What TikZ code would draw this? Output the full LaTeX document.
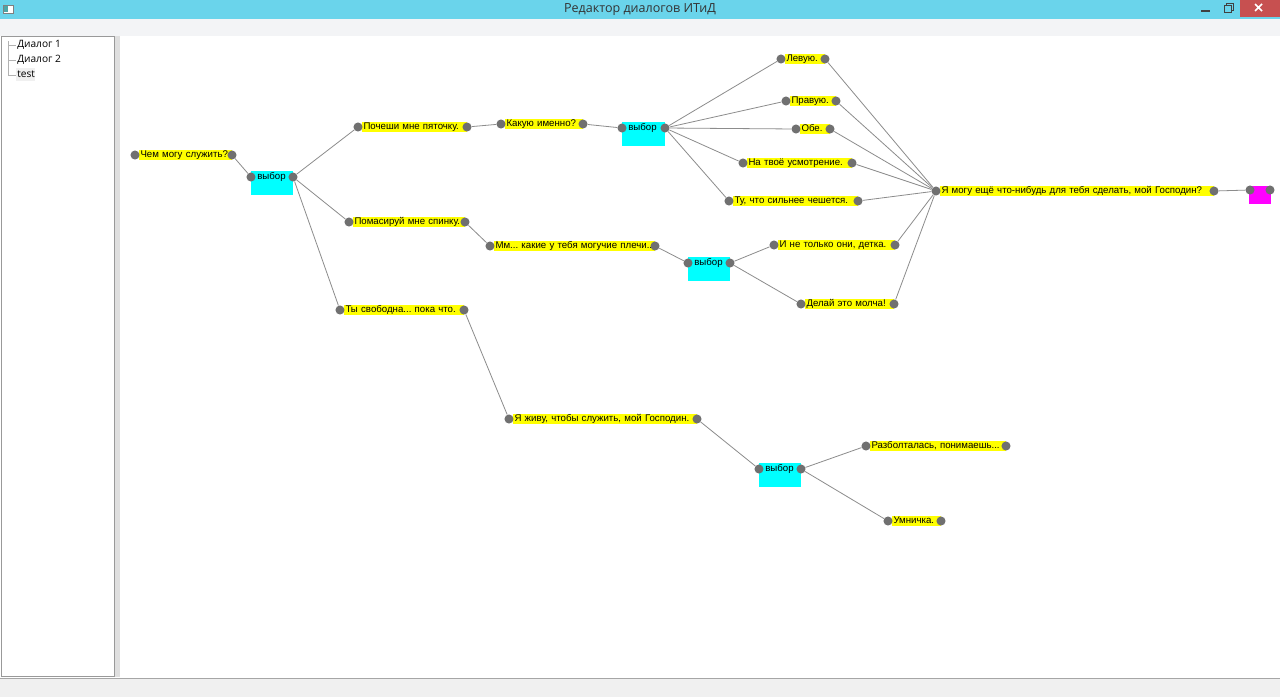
\documentclass[tikz,border=0pt]{standalone}
\usepackage{fontspec}
\setmainfont{Liberation Sans}
\newfontfamily\uifont{Open Sans}
\frenchspacing

\definecolor{titlecyan}{RGB}{106,212,235}
\definecolor{closered}{RGB}{199,80,80}
\definecolor{bandgray}{RGB}{243,244,246}
\definecolor{statusgray}{RGB}{240,240,240}
\definecolor{portgray}{RGB}{112,112,112}
\definecolor{wiregray}{RGB}{140,140,140}
\definecolor{pickcyan}{RGB}{0,255,255}
\definecolor{endmagenta}{RGB}{255,0,255}
\definecolor{phraseyellow}{RGB}{255,255,0}

\pgfdeclarelayer{chrome}
\pgfdeclarelayer{wires}
\pgfsetlayers{chrome,wires,main}

% name, left port x, right port x, y, text
\newcommand{\replica}[5]{%
  \node[phrase, text width={(#3-#2-7)*0.75pt}] (#1) at ({(#2+#3)/2+2},#4) {\mbox{#5}};
  \node[port] (#1L) at (#2,#4) {};
  \node[port] (#1R) at (#3,#4) {};
}
% name, left port x, right port x, y
\newcommand{\vybor}[4]{%
  \node[pick, minimum width={(#3-#2)*0.75pt}] (#1) at ({(#2+#3)/2},#4+6) {};
  \node[picktext] (#1t) at (#2+6,#4) {выбор};
  \node[port] (#1L) at (#2,#4) {};
  \node[port] (#1R) at (#3,#4) {};
}

\begin{document}
\begin{tikzpicture}[
            x = 0.75pt, y = -0.75pt, % one screen pixel, y going down
            phrase/.style = {fill=phraseyellow, inner xsep=1.1pt, inner ysep=0pt, minimum height=7.5pt,
                             text height=5.2pt, text depth=1.6pt, align=left,
                             font=\fontsize{7.25}{8}\selectfont},
            pick/.style = {fill=pickcyan, minimum height=18pt, inner sep=0pt},
            picktext/.style = {anchor=west, inner sep=0pt, text height=5.2pt, text depth=1.6pt,
                               font=\fontsize{7.25}{8}\selectfont},
            port/.style = {circle, fill=portgray, minimum size=6.8pt, inner sep=0pt},
            wire/.style = {draw=wiregray, line width=0.6pt},
            finish/.style = {fill=endmagenta, minimum width=16.5pt, minimum height=13.5pt, inner sep=0pt},
            treeitem/.style = {anchor=west, inner sep=0pt, font=\uifont\fontsize{7.6}{9}\selectfont}
        ]
\useasboundingbox (0,0) rectangle (1280,697);

% window
\begin{pgfonlayer}{chrome}
  \fill[bandgray] (0,0) rectangle (1280,36);
  \fill[titlecyan] (0,0) rectangle (1280,19);
  \fill[closered] (1240,0) rectangle (1280,17);
  \draw[white, line width=1.1pt] (1255,4) -- (1262,11) (1255,11) -- (1262,4);
  \draw[black!75, line width=1pt] (1201,11) -- (1210,11);
  \draw[black!75, line width=0.7pt] (1224,5) rectangle (1231,12) (1226,5) -- (1226,3) -- (1233,3) -- (1233,10) -- (1231,10);
  \filldraw[fill=white, draw=gray, line width=0.5pt] (3,5) rectangle (13,13);
  \fill[teal!70] (4,6) rectangle (8,12);
  \fill[statusgray] (0,678) rectangle (1280,697);
  \draw[gray!70, line width=0.75pt] (0,678) -- (1280,678);
  \filldraw[fill=white, draw=gray!80, line width=0.75pt] (1.5,36.5) rectangle (114.5,676.5);
  \fill[gray!25] (115,36) rectangle (120,677);
  \fill[white] (120,36) rectangle (1280,677);
  \fill[gray!12] (16,68) rectangle (35,81);
  \draw[gray!60, line width=0.5pt] (8,41) -- (8,75) (8,45) -- (16,45) (8,60) -- (16,60) (8,75) -- (16,75);
\end{pgfonlayer}

\node[font=\uifont\fontsize{9.4}{11}\selectfont, text=black!80] (title) at (640,10) {Редактор диалогов ИТиД};
\node[treeitem] (dlg1) at (17,45) {Диалог 1};
\node[treeitem] (dlg2) at (17,60) {Диалог 2};
\node[treeitem] (test) at (17,74) {test};

% dialogue
\replica{chem}{135}{232}{155}{Чем могу служить?}
\vybor{vybor1}{251}{293}{177}
\replica{pyatka}{358}{467}{127}{Почеши мне пяточку.}
\replica{kakuyu}{501}{583}{124}{Какую именно?}
\vybor{vybor2}{622}{665}{128}
\replica{levuyu}{781}{825}{59}{Левую.}
\replica{pravuyu}{786}{836}{101}{Правую.}
\replica{obe}{796}{830}{129}{Обе.}
\replica{usmotr}{743}{852}{163}{На твоё усмотрение.}
\replica{chesh}{729}{858}{201}{Ту, что сильнее чешется.}
\replica{eshche}{936}{1214}{191}{Я могу ещё что-нибудь для тебя сделать, мой Господин?}
\node[finish] (konec) at (1260,195) {};
\node[port] (konecL) at (1250,190) {};
\node[port] (konecR) at (1270,190) {};
\replica{spinka}{349}{465}{222}{Помасируй мне спинку.}
\replica{plechi}{490}{655}{246}{Мм... какие у тебя могучие плечи...}
\vybor{vybor3}{688}{730}{263}
\replica{detka}{774}{895}{245}{И не только они, детка.}
\replica{molcha}{801}{894}{304}{Делай это молча!}
\replica{svobodna}{340}{464}{310}{Ты свободна... пока что.}
\replica{zhivu}{509}{697}{419}{Я живу, чтобы служить, мой Господин.}
\vybor{vybor4}{759}{801}{469}
\replica{razbolt}{866}{1006}{446}{Разболталась, понимаешь...}
\replica{umnichka}{888}{941}{521}{Умничка.}

\begin{pgfonlayer}{wires}
 \path [wire] (chemR) edge (vybor1L);
 \path [wire] (vybor1R) edge (pyatkaL) edge (spinkaL) edge (svobodnaL);
 \path [wire] (pyatkaR) edge (kakuyuL);
 \path [wire] (kakuyuR) edge (vybor2L);
 \path [wire] (vybor2R) edge (levuyuL) edge (pravuyuL) edge (obeL) edge (usmotrL) edge (cheshL);
 \path [wire] (eshcheL) edge (levuyuR) edge (pravuyuR) edge (obeR) edge (usmotrR) edge (cheshR) edge (detkaR) edge (molchaR);
 \path [wire] (eshcheR) edge (konecL);
 \path [wire] (spinkaR) edge (plechiL);
 \path [wire] (plechiR) edge (vybor3L);
 \path [wire] (vybor3R) edge (detkaL) edge (molchaL);
 \path [wire] (svobodnaR) edge (zhivuL);
 \path [wire] (zhivuR) edge (vybor4L);
 \path [wire] (vybor4R) edge (razboltL) edge (umnichkaL);
\end{pgfonlayer}
\end{tikzpicture}
\end{document}
